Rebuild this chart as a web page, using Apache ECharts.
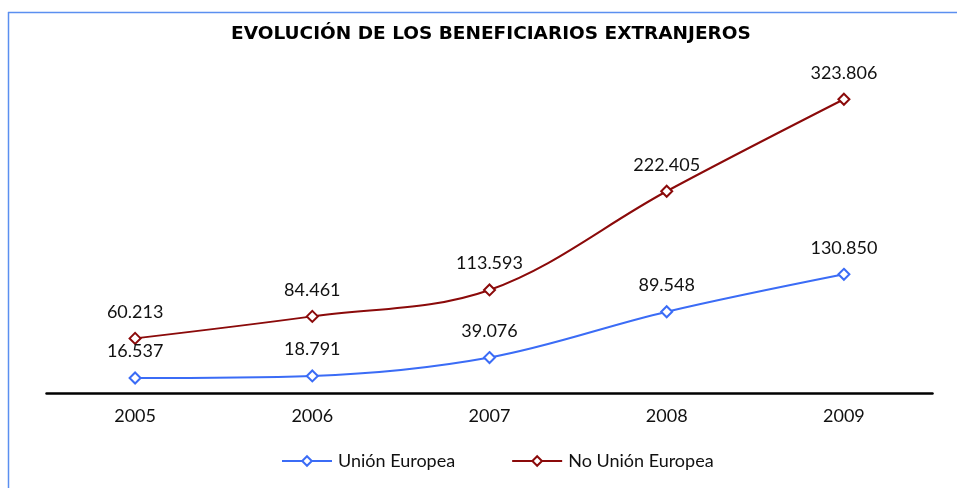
<!DOCTYPE html>
<html>
<head>
<meta charset="utf-8">
<script src="https://cdn.jsdelivr.net/npm/echarts@6/dist/echarts.min.js"></script>
<style>
	html, body { margin: 0; padding: 0; background: #fff; }
	#main { width: 957px; height: 488px; }
</style>
</head>
<body>
<div id="main"></div>
<script>
var years = ['2005', '2006', '2007', '2008', '2009'];
var unionEuropea = [16537, 18791, 39076, 89548, 130850];
var noUnionEuropea = [60213, 84461, 113593, 222405, 323806];

// formato con punto de miles
function fmt(v){
	return String(v).replace(/\B(?=(\d{3})+(?!\d))/g, '.');
}

var myChart = echarts.init(document.getElementById('main'));
var font = 'Lato, "Open Sans", sans-serif';
var option = {
	animation: false,
	textStyle: { fontFamily: font },
	title: {
		text: 'EVOLUCIÓN DE LOS BENEFICIARIOS EXTRANJEROS',
		left: 486,
		textAlign: 'center',
		top: 20,
		textStyle: { fontSize: 18.5, fontWeight: 'bold', color: '#000', fontFamily: '"DejaVu Sans", sans-serif' }
	},
	legend: {
		bottom: 13,
		left: 276,
		itemWidth: 50,
		itemHeight: 12,
		itemGap: 56,
		textStyle: { fontSize: 18, color: '#111', fontFamily: font, padding: [0, 0, 0, 1] },
		data: ['Unión Europea', 'No Unión Europea']
	},
	grid: { left: 46.5, right: 24.5, top: 75.5, bottom: 95 },
	xAxis: {
		type: 'category',
		data: years,
		axisLine: { lineStyle: { color: '#000', width: 2.5 } },
		axisTick: { show: false },
		axisLabel: { fontSize: 18, color: '#111', margin: 14, fontFamily: font }
	},
	yAxis: {
		type: 'value',
		min: 0,
		max: 350000,
		show: false,
		splitLine: { show: false }
	},
	series: [
		{
			name: 'Unión Europea',
			type: 'line',
			data: unionEuropea,
			smooth: 0.35,
			symbol: 'diamond',
			symbolSize: 11,
			color: '#3b6cf6',
			lineStyle: { width: 2, color: '#3b6cf6' },
			itemStyle: { color: '#fff', borderColor: '#3b6cf6', borderWidth: 2 },
			label: { show: true, position: 'top', distance: 11, fontSize: 18, color: '#111', fontFamily: font, formatter: function(p){ return fmt(p.value); } }
		},
		{
			name: 'No Unión Europea',
			type: 'line',
			data: noUnionEuropea,
			smooth: 0.35,
			symbol: 'diamond',
			symbolSize: 11,
			color: '#8b0a0a',
			lineStyle: { width: 2, color: '#8b0a0a' },
			itemStyle: { color: '#fff', borderColor: '#8b0a0a', borderWidth: 2 },
			label: { show: true, position: 'top', distance: 11, fontSize: 18, color: '#111', fontFamily: font, formatter: function(p){ return fmt(p.value); } }
		}
	],
	graphic: [
		{ type: 'line', shape: { x1: 8, y1: 12.5, x2: 957, y2: 12.5 }, style: { stroke: '#5b8ff0', lineWidth: 1.5 } },
		{ type: 'line', shape: { x1: 8.5, y1: 12, x2: 8.5, y2: 488 }, style: { stroke: '#5b8ff0', lineWidth: 1.5 } }
	]
};
myChart.setOption(option, true);
</script>
</body>
</html>
